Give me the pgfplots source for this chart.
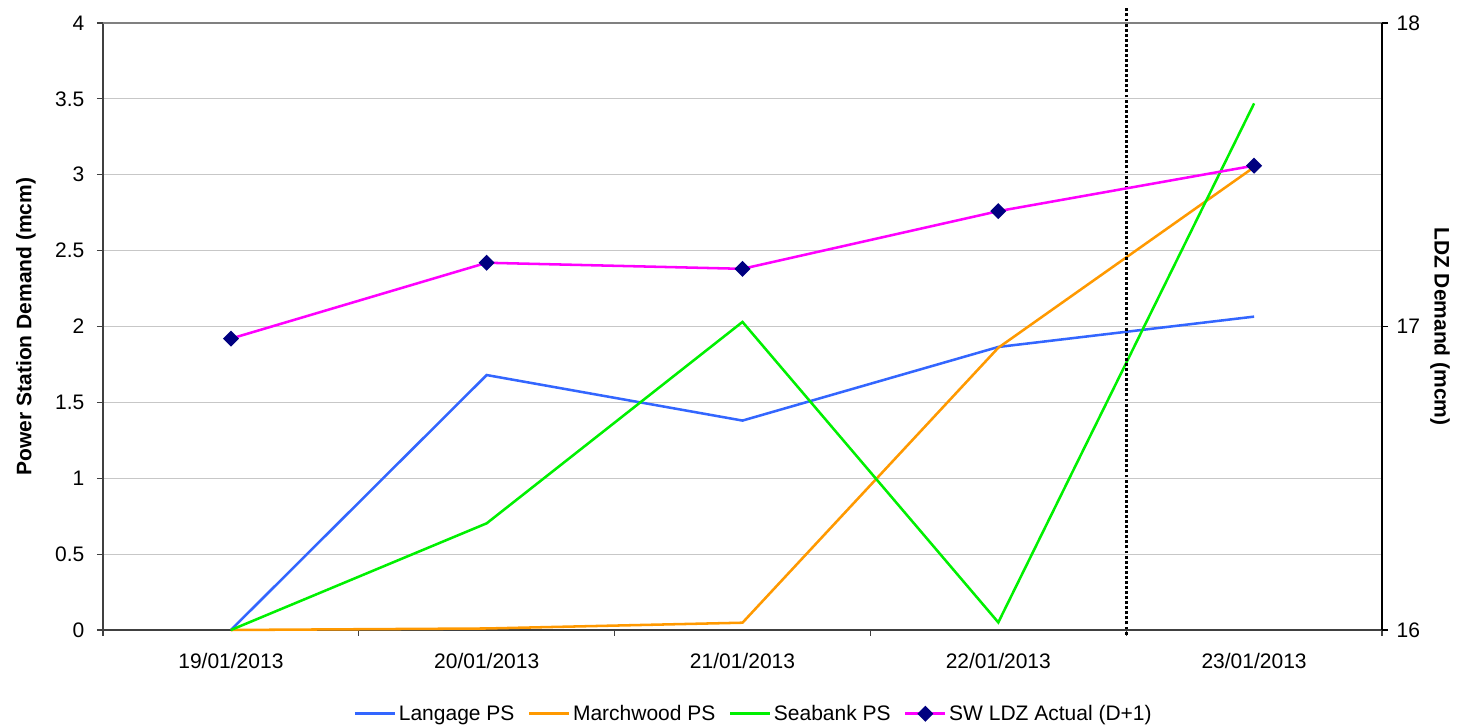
\documentclass[border=0pt]{standalone}
\usepackage{pgfplots}
\pgfplotsset{compat=1.18}
\usepackage{fontspec}
\setmainfont{Liberation Sans}
\usetikzlibrary{calc}
\definecolor{cLang}{RGB}{51,102,255}
\definecolor{cMarch}{RGB}{255,153,0}
\definecolor{cSea}{RGB}{0,240,0}
\definecolor{cSW}{RGB}{255,0,255}
\definecolor{cNavy}{RGB}{0,0,128}
\begin{document}
\begin{tikzpicture}[x=1pt,y=1pt]
\begin{axis}[
  name=main,
  scale only axis,
  width=959.25pt, height=455.25pt,
  xmin=0.5, xmax=5.5, ymin=0, ymax=4,
  axis x line*=bottom, axis y line*=left,
  axis line style={black!75, line width=1.1pt, -},
  xtick={1,2,3,4,5},
  xticklabels={19/01/2013,20/01/2013,21/01/2013,22/01/2013,23/01/2013},
  minor xtick={0.5,1.5,2.5,3.5,4.5,5.5},
  major x tick style={draw=none},
  minor x tick style={black!75, line width=0.9pt},
  minor tick length=4.5pt,
  ytick={0,0.5,...,4},
  yticklabels={0,0.5,1,1.5,2,2.5,3,3.5,4},
  major y tick style={black!75, line width=0.9pt},
  major tick length=4.5pt,
  tick align=outside,
  ymajorgrids,
  grid style={black!22, line width=0.8pt},
  tick label style={font=\fontsize{15.75pt}{18pt}\selectfont},
  /pgf/number format/assume math mode=true,
  xticklabel style={yshift=-9.5pt},
  yticklabel style={xshift=-6pt},
  ylabel={\textbf{Power Station Demand (mcm)}},
  ylabel style={font=\fontsize{15.75pt}{18pt}\selectfont, at={(axis description cs:0,0.5)}, anchor=center, yshift=57.75pt},
  clip=false,
  legend style={draw=none, at={(0.509,-0.138)}, anchor=center, legend columns=-1,
    font=\fontsize{15.75pt}{18pt}\selectfont, inner sep=0pt,
    /tikz/every even column/.append style={column sep=8pt},
    /tikz/every odd column/.append style={column sep=0pt}},
  legend image code/.code={\draw[mark repeat=2, mark phase=2, #1] plot coordinates {(0pt,0pt) (15pt,0pt) (30pt,0pt)};},
]
\draw[black!50, line width=1.1pt] (rel axis cs:0,1) -- (rel axis cs:1,1);
\addplot[cLang, line width=1.9pt] coordinates {(1,0) (2,1.68) (3,1.38) (4,1.865) (5,2.065)};
\addlegendentry{Langage PS}
\addplot[cMarch, line width=1.9pt] coordinates {(1,0) (2,0.01) (3,0.048) (4,1.86) (5,3.05)};
\addlegendentry{Marchwood PS}
\addplot[cSea, line width=1.9pt] coordinates {(1,0) (2,0.703) (3,2.03) (4,0.05) (5,3.47)};
\addlegendentry{Seabank PS}
\addlegendimage{cSW, line width=1.9pt, mark=square*, mark size=3.3pt, mark options={rotate=45, fill=cNavy, draw=cNavy}}
\addlegendentry{SW LDZ Actual (D+1)}
\addplot[black, line width=2.2pt, dash pattern=on 2.2pt off 1.6pt, forget plot] coordinates {(4.5,-0.03) (4.5,4.1)};
\coordinate (sw) at (rel axis cs:0,0);
\coordinate (ne) at (rel axis cs:1,1);
\end{axis}
\begin{axis}[
  scale only axis,
  width=959.25pt, height=455.25pt,
  xmin=0.5, xmax=5.5, ymin=16, ymax=18,
  axis x line=none, axis y line*=right,
  axis line style={black, line width=1.1pt, -},
  ytick={16,17,18},
  major y tick style={black, line width=0.9pt},
  major tick length=4.5pt,
  tick align=outside,
  tick label style={font=\fontsize{15.75pt}{18pt}\selectfont},
  /pgf/number format/assume math mode=true,
  yticklabel style={xshift=3pt},
  ylabel={\textbf{LDZ Demand (mcm)}},
  ylabel style={font=\fontsize{15.75pt}{18pt}\selectfont, at={(axis description cs:1,0.5)}, anchor=center, rotate=180, yshift=43.5pt},
  clip=false,
]
\addplot[cSW, line width=1.9pt, mark=square*, mark size=3.3pt, mark options={rotate=45, fill=cNavy, draw=cNavy}]
  coordinates {(1,16.96) (2,17.21) (3,17.19) (4,17.38) (5,17.53)};
\end{axis}
\pgfresetboundingbox
\path ($(sw)+(-77.25pt,-72pt)$) rectangle ($(ne)+(57.75pt,17.25pt)$);
\end{tikzpicture}
\end{document}
